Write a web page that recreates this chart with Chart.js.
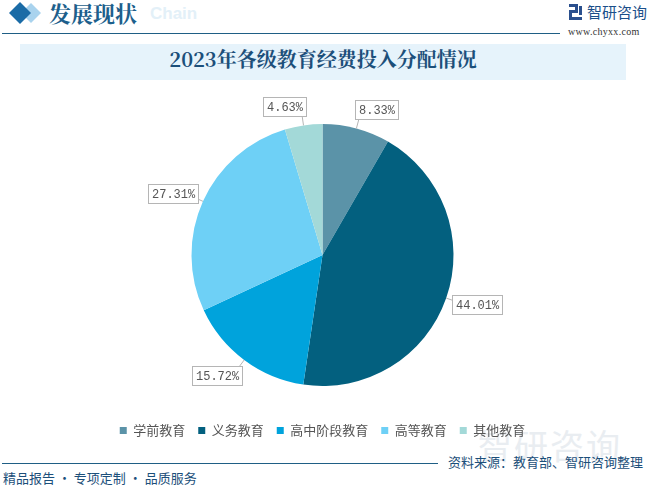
<!DOCTYPE html>
<html><head><meta charset="utf-8">
<script src="https://cdn.jsdelivr.net/npm/chart.js@4/dist/chart.umd.min.js"></script>
<style>
html,body{margin:0;padding:0;background:#fff;width:651px;height:489px;overflow:hidden;font-family:"Noto Sans CJK SC",sans-serif;}
#wrap{position:relative;width:651px;height:489px;}
.abs{position:absolute;white-space:nowrap;}
</style></head>
<body><div id="wrap">
<!-- header -->
<svg class="abs" style="left:0;top:0" width="60" height="30">
  <polygon points="31,3 41,13 31,23 21,13" fill="#a9d3ee"/>
  <polygon points="20,2 31,13 20,24 9,13" fill="#1a6ba6"/>
</svg>
<div class="abs" style="left:150px;top:4px;font:bold 17px 'Liberation Sans';color:#e3f0f8;">Chain</div>
<div class="abs" style="left:49px;top:-1px;font:bold 22px 'Noto Serif CJK SC','Noto Sans CJK SC';color:#1d5f8c;line-height:28px;">发展现状</div>
<div class="abs" style="left:2px;top:33px;width:558px;height:1px;background:#1f5f85;"></div>
<svg class="abs" style="left:569px;top:4px" width="14" height="17">
  <rect x="0" y="0" width="9" height="3" fill="#2a4f8d"/><rect x="6" y="0" width="3" height="9" fill="#2a4f8d"/>
  <rect x="0" y="6" width="9" height="3" fill="#2a4f8d"/><rect x="0" y="6" width="3" height="10" fill="#2a4f8d"/>
  <rect x="0" y="13" width="13" height="3" fill="#2a4f8d"/><rect x="10" y="2" width="3" height="9" fill="#2a4f8d"/>
</svg>
<div class="abs" style="left:587px;top:2px;font:15px 'Noto Sans CJK SC';color:#1b4f8a;line-height:20px;">智研咨询</div>
<div class="abs" style="left:568px;top:26px;font:10px 'Liberation Serif';color:#333;letter-spacing:0.3px;">www.chyxx.com</div>
<!-- title box -->
<div class="abs" style="left:20px;top:44px;width:606px;height:36px;background:#e6f3fb;"></div>
<div class="abs" style="left:20px;top:44px;width:606px;height:36px;line-height:36px;text-align:center;font:bold 20px 'Noto Serif CJK SC','Liberation Serif',serif;color:#1c4f7a;">2023年各级教育经费投入分配情况</div>
<!-- watermark -->
<div class="abs" style="left:478px;top:420px;font:34px 'Noto Sans CJK SC';color:#e9edf1;letter-spacing:2px;">智研咨询</div>
<canvas id="c" class="abs" style="left:0;top:87px;" width="651" height="360"></canvas>
<!-- footer -->
<div class="abs" style="left:2px;top:463px;width:436px;height:1px;background:#1f5f85;"></div>
<div class="abs" style="left:448px;top:453px;font:13px 'Noto Sans CJK SC';color:#1c4f7a;line-height:18px;">资料来源：教育部、智研咨询整理</div>
<div class="abs" style="left:3px;top:469px;font:13px 'Noto Sans CJK SC';color:#1c4f7a;line-height:18px;">精品报告 · 专项定制 · 品质服务</div>
</div>
<script>
const categories = ["学前教育","义务教育","高中阶段教育","高等教育","其他教育"];
const shares = [8.33, 44.01, 15.72, 27.31, 4.63];
const colors = ["#5b93a8","#03607f","#00a3dc","#6ed0f6","#a3d9d8"];

const labelPlugin = {
  id: 'calloutLabels',
  afterDatasetsDraw(chart){
    const ctx = chart.ctx;
    const meta = chart.getDatasetMeta(0);
    ctx.save();
    ctx.font = "12px 'Liberation Mono','DejaVu Sans Mono',monospace";
    meta.data.forEach((arc, i) => {
      const p = arc.getProps(['x','y','startAngle','endAngle','outerRadius'], true);
      const mid = (p.startAngle + p.endAngle)/2;
      const dx = Math.cos(mid), dy = Math.sin(mid);
      const ex = p.x + dx*p.outerRadius, ey = p.y + dy*p.outerRadius;
      const px = p.x + dx*(p.outerRadius+10), py = p.y + dy*(p.outerRadius+10);
      const txt = shares[i].toFixed(2) + '%';
      const w = ctx.measureText(txt).width + 7, h = 19;
      let left = dx > 0 ? px - 4 : px + 4 - w;
      const cy = py + dy*h/2;
      const top = cy - h/2;
      ctx.strokeStyle = '#b5b5b5'; ctx.lineWidth = 1;
      ctx.beginPath(); ctx.moveTo(ex, ey); ctx.lineTo(px, py); ctx.stroke();
      ctx.fillStyle = '#fff';
      ctx.fillRect(Math.round(left)+0.5, Math.round(top)+0.5, Math.round(w), h);
      ctx.strokeRect(Math.round(left)+0.5, Math.round(top)+0.5, Math.round(w), h);
      ctx.fillStyle = '#555';
      ctx.textAlign = 'center'; ctx.textBaseline = 'middle';
      ctx.fillText(txt, Math.round(left)+w/2+0.5, Math.round(top)+h/2+1);
    });
    ctx.restore();
  }
};

new Chart(document.getElementById('c'), {
  type: 'pie',
  data: { labels: categories, datasets: [{ data: shares, backgroundColor: colors, borderWidth: 0 }] },
  options: {
    responsive: false, animation: false,
    radius: 131,
    layout: { padding: { top: 12, bottom: 0, left: 0, right: 6 } },
    plugins: {
      tooltip: { enabled: false },
      legend: {
        position: 'bottom',
        labels: { boxWidth: 7, boxHeight: 7, padding: 13, color: '#555',
          font: { size: 13, family: "'Noto Sans CJK SC'" } }
      }
    }
  },
  plugins: [labelPlugin]
});
</script>
</body></html>
